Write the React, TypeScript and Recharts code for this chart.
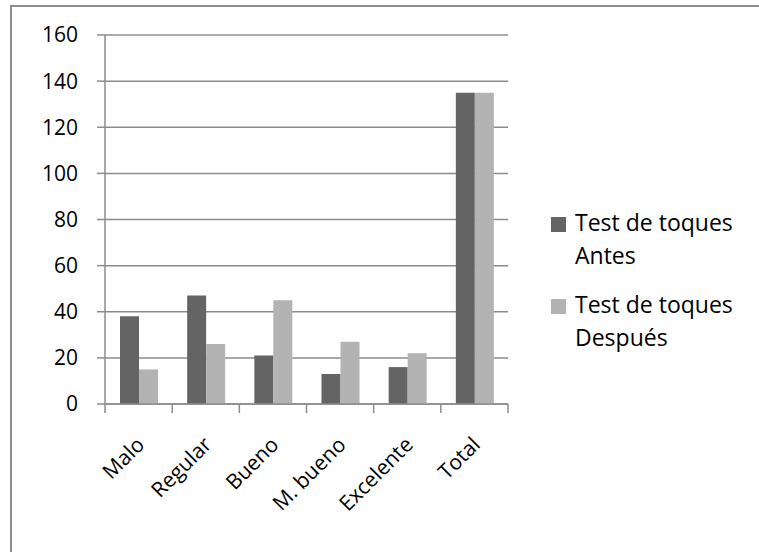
import React from 'react';
import { BarChart, Bar, XAxis, YAxis, CartesianGrid, Legend } from 'recharts';

const categories = ['Malo', 'Regular', 'Bueno', 'M. bueno', 'Excelente', 'Total'];
const antes = [38, 47, 21, 13, 16, 135];
const despues = [15, 26, 45, 27, 22, 135];
const yTicks = [0, 20, 40, 60, 80, 100, 120, 140, 160];

const data = categories.map((name, i) => ({ name, antes: antes[i], despues: despues[i] }));

const FONT = '"Open Sans", sans-serif';
const GRID = '#8c8c8c';
const W = 759;
const H = 552;
const MARGIN = { top: 35, right: 251, left: 0, bottom: 88 };
const Y_WIDTH = 105;
const PLOT_W = W - MARGIN.left - MARGIN.right - Y_WIDTH;
const BAND = PLOT_W / categories.length;

const CategoryTick = (props: any) => {
    const { x, y, payload, index } = props;
    const axisY = y - 8;
    const tx = x + 7;
    const ty = axisY + 42;
    return (
        <g>
            <line x1={x - BAND / 2} y1={axisY} x2={x - BAND / 2} y2={axisY + 9} stroke={GRID} strokeWidth={1.5} />
            {index === categories.length - 1 && (
                <line x1={x + BAND / 2} y1={axisY} x2={x + BAND / 2} y2={axisY + 9} stroke={GRID} strokeWidth={1.5} />
            )}
            <text
                x={tx}
                y={ty}
                textAnchor="end"
                transform={`rotate(-45, ${tx}, ${ty})`}
                fontFamily={FONT}
                fontSize={21}
                fill="#000"
            >
                {payload.value}
            </text>
        </g>
    );
};

const renderLegend = (props: any) => {
    const { payload } = props;
    return (
        <div style={{ fontFamily: FONT, fontSize: 23, lineHeight: '33px', color: '#000' }}>
            {payload.map((entry: any, i: number) => (
                <div key={`leg-${i}`} style={{ display: 'flex', alignItems: 'flex-start', marginBottom: 16 }}>
                    <span style={{ display: 'inline-block', width: 15, height: 15, background: entry.color, marginTop: 11, marginRight: 9, flexShrink: 0 }} />
                    <span style={{ width: 170 }}>{entry.value}</span>
                </div>
            ))}
        </div>
    );
};

export default function App() {
    return (
        <div style={{ position: 'absolute', left: 0, top: 0, width: W, height: H, background: '#fff' }}>
            <div style={{ position: 'absolute', left: 10, top: 5, width: W, height: H, borderTop: `2px solid ${GRID}`, borderLeft: `2px solid ${GRID}` }} />
            <div style={{ position: 'absolute', left: 0, top: 0 }}>
                <BarChart width={W} height={H} data={data} margin={MARGIN} barSize={19} barGap={0}>
                    <CartesianGrid vertical={false} stroke={GRID} strokeWidth={1.5} />
                    <XAxis
                        dataKey="name"
                        height={60}
                        stroke={GRID}
                        strokeWidth={1.5}
                        tickLine={false}
                        tickSize={8}
                        tickMargin={0}
                        interval={0}
                        tick={<CategoryTick />}
                    />
                    <YAxis
                        width={Y_WIDTH}
                        domain={[0, 160]}
                        ticks={yTicks}
                        interval={0}
                        stroke={GRID}
                        strokeWidth={1.5}
                        tickSize={8}
                        tickMargin={19}
                        tick={{ fill: '#000', fontFamily: FONT, fontSize: 21 }}
                    />
                    <Legend
                        layout="vertical"
                        align="center"
                        verticalAlign="middle"
                        wrapperStyle={{ left: 551, top: 206, width: 200 }}
                        content={renderLegend}
                    />
                    <Bar dataKey="antes" name="Test de toques Antes" fill="#646464" isAnimationActive={false} />
                    <Bar dataKey="despues" name="Test de toques Después" fill="#b3b3b3" isAnimationActive={false} />
                </BarChart>
            </div>
        </div>
    );
}
